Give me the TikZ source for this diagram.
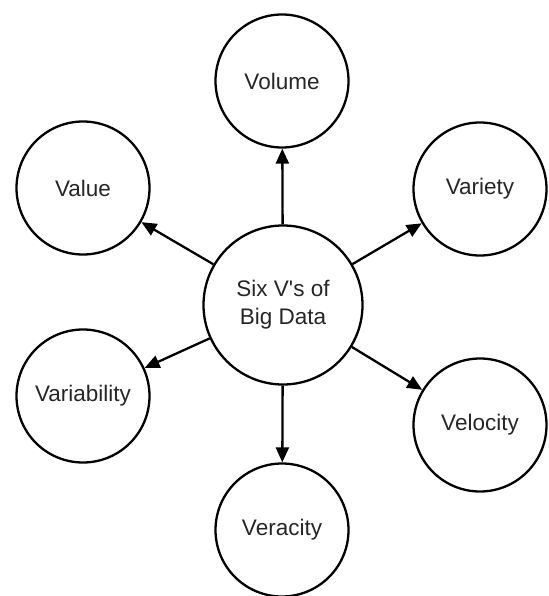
\documentclass[tikz,border=0pt]{standalone}
\usepackage{fontspec}
\setmainfont{Liberation Sans}
\usetikzlibrary{arrows.meta}
\begin{document}
\begin{tikzpicture}[x=1pt,y=-1pt,
  vbubble/.style={circle,draw=black,line width=2.3pt,fill=white,inner sep=0pt,
    minimum size=133pt,font=\fontsize{22.5}{28}\selectfont,text=black!85},
  hub/.style={vbubble,minimum size=159pt,align=center},
  spoke/.style={line width=2.3pt,-{Triangle[length=15pt,width=13pt]}}]
\useasboundingbox (0,0) rectangle (548,596);
\fill[white] (0,0) rectangle (548,596);
\node[hub] (c) at (283,305) {Six V\textquotesingle s of\\Big Data};
\node[vbubble] (vol) at (282,81) {Volume};
\node[vbubble] (val) at (83,188) {Value};
\node[vbubble] (vay) at (480,189) {Variety};
\node[vbubble] (vab) at (83,396) {Variability};
\node[vbubble] (vel) at (480,425) {Velocity};
\node[vbubble] (ver) at (282,530) {Veracity};
\foreach \t in {vol,val,vay,vab,vel,ver}
  \draw[spoke] (c) -- (\t);
\end{tikzpicture}
\end{document}
